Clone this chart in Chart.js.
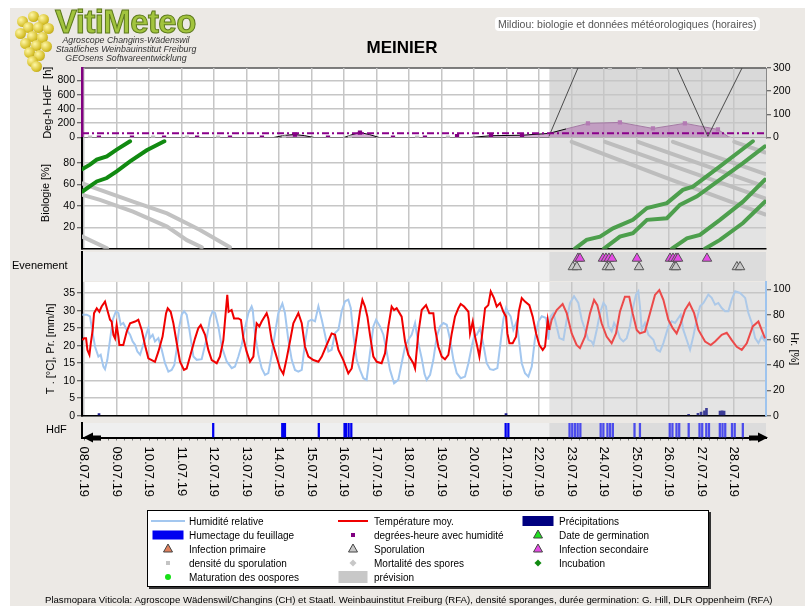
<!DOCTYPE html>
<html lang="fr">
<head>
<meta charset="utf-8">
<title>VitiMeteo - Mildiou MEINIER</title>
<script src="https://cdn.jsdelivr.net/npm/chart.js@4/dist/chart.umd.min.js"></script>
<style>
  html, body { margin: 0; padding: 0; background: #fff; }
  #page { position: relative; width: 805px; height: 606px; overflow: hidden; background: #fff;
          font-family: "Liberation Sans", Arial, sans-serif; color: #000; }
  #frame { position: absolute; left: 10px; top: 8px; right: 0; bottom: 0; background: #ece9e5; }
  #page canvas { position: absolute; left: 0; top: 0; }
  .txt { position: absolute; white-space: nowrap; z-index: 5; }
  #logo { left: 55px; top: 3px; font: bold 33px "Liberation Sans", Arial, sans-serif; color: #a2c43e;
          -webkit-text-stroke: 1px #5d7a1c; letter-spacing: -0.6px; }
  #logoSub { left: 46px; top: 36px; width: 160px; text-align: center; font: italic 8.8px/9px "Liberation Sans", Arial, sans-serif; color: #333; }
  #mainTitle { left: 300px; width: 204px; text-align: center; top: 38px; font: bold 17px "Liberation Sans", Arial, sans-serif; }
  #subTitle { left: 495px; top: 17px; font: 10.5px "Liberation Sans", Arial, sans-serif; color: #555;
              background: #fff; border-radius: 4px; padding: 1px 3px; }
  #grapes span { position: absolute; width: 11px; height: 11px; border-radius: 50%;
                 background: radial-gradient(circle at 35% 35%, #fff7a8, #d6c02a 60%, #9c8612); }
  #legend { position: absolute; left: 147px; top: 510px; width: 560px; height: 75px; background: #fff;
            border: 1px solid #000; box-shadow: 2px 2px 0 #333; z-index: 5; font-size: 10px; }
  #legend .lt { position: absolute; white-space: nowrap; transform: translateY(-50%); }
  #legend .sy { position: absolute; transform: translate(-50%, -50%); }
  #footer { left: 45px; top: 594px; font-size: 9.6px; }
</style>
</head>
<body>
<div id="page">
  <div id="frame"></div>
  <div id="grapes" class="txt" style="left:14px;top:11px;width:42px;height:56px;"></div>
  <div id="logo" class="txt">VitiMeteo</div>
  <div id="logoSub" class="txt">Agroscope Changins-Wädenswil<br>Staatliches Weinbauinstitut Freiburg<br>GEOsens Softwareentwicklung</div>
  <div id="mainTitle" class="txt">MEINIER</div>
  <div id="subTitle" class="txt">Mildiou: biologie et données météorologiques (horaires)</div>

  <canvas id="cDeg" width="805" height="606"></canvas>
  <canvas id="cBio" width="805" height="606"></canvas>
  <canvas id="cEvt" width="805" height="606"></canvas>
  <canvas id="cMet" width="805" height="606"></canvas>
  <canvas id="cHdf" width="805" height="606"></canvas>

  <div class="txt" style="left:12px;top:259px;font-size:11px;">Evenement</div>
  <div class="txt" style="left:46px;top:423px;font-size:11px;">HdF</div>

  <div id="legend"></div>
  <div id="footer" class="txt">Plasmopara Viticola: Agroscope Wädenswil/Changins (CH) et Staatl. Weinbauinstitut Freiburg (RFA), densité sporanges, durée germination: G. Hill, DLR Oppenheim (RFA)</div>
</div>

<script>
// time axis: hours after 08.07.19 00:00
const dayLabels = ["08.07.19", "09.07.19", "10.07.19", "11.07.19", "12.07.19", "13.07.19", "14.07.19",
  "15.07.19", "16.07.19", "17.07.19", "18.07.19", "19.07.19", "20.07.19", "21.07.19", "22.07.19",
  "23.07.19", "24.07.19", "25.07.19", "26.07.19", "27.07.19", "28.07.19"];
const forecastStart = 343.7;

const degTicks = [0, 200, 400, 600, 800];
const sporTicks = [0, 100, 200, 300];
const bioTicks = [20, 40, 60, 80];
const tempTicks = [0, 5, 10, 15, 20, 25, 30, 35];
const humTicks = [0, 20, 40, 60, 80, 100];

// top panel: degree-hours with wetness
const degArea = [[-1.5, 0], [140, 0], [148, 30], [155.8, 42], [163, 25], [170, 0], [192, 0], [198, 40], [203.8, 70],
  [211, 40], [218, 0], [285, 0], [300.6, 25], [323.5, 32], [343.4, 57], [356, 120], [372.2, 198], [395.8, 212],
  [420.2, 127], [443.8, 198], [468.2, 113], [476, 10], [478, 0]];
const degSquares = [[11, 0], [35.4, 0], [59.1, 0], [83.5, 0], [107.8, 0], [131.4, 0], [155.8, 42], [180.2, 0],
  [203.8, 70], [228.2, 0], [251.8, 0], [275.5, 18], [300.6, 25], [323.5, 32]];
const degSquaresFc = [[372.2, 198], [395.8, 212], [420.2, 127], [443.8, 198], [468.2, 113]];
const sporDensity = [[4.4, 0], [51, 0], [76, 0], [99, 0], [147.7, 0], [196.4, 0], [246, 0], [268.8, 0]];
const sporDensityFc = [[388.4, 300], [410.6, 300]];
const sporCumul = [[343.4, 5], [364.8, 300], [372, 420], [430, 420], [438, 300], [460.8, 5], [486, 300], [495, 420]];
const degThreshold = 60;

// biology [%]
const incub1 = [[-1.2, 74.5], [4.4, 78.6], [9.4, 83.3], [16.8, 86.4], [24.1, 92.7], [34, 100.5]];
const incub2 = [[-1.2, 53.5], [9.4, 62.9], [16.8, 66.1], [24.1, 72.3], [34, 81.7], [46.3, 92], [59.3, 100.5]];
const incub3 = [[362.6, 0], [371.2, 8.2], [381.1, 11.3], [390.7, 19], [405.4, 27], [415.8, 38], [430.5, 42.6],
  [442.3, 55], [449.7, 58], [469.7, 77], [494, 100.5]];
const incub4 = [[384, 0], [395.8, 11.3], [405.4, 14.5], [415.8, 27], [430.5, 28.5], [440.1, 41], [452.7, 49],
  [469.7, 64.5], [486.7, 80], [502.9, 95.7]];
const incub5 = [[434.2, 0], [445.3, 9.7], [454.9, 12.9], [469.7, 27], [486.7, 44], [502.9, 64.5]];
const incub6 = [[458.6, 0], [469.7, 8.2], [486.7, 24], [502.9, 44]];
const mort1 = [[-1.2, 61], [11.8, 55], [36.2, 44], [61.3, 33], [85.7, 17.5], [107.8, 1.3]];
const mort2 = [[-1.2, 50.4], [11.8, 45.7], [36.2, 34.7], [61.3, 20.7], [76, 8], [87, 1.3]];
const mort3 = [[-1.2, 11.3], [17, 0.4]];
const mort4 = [[360.2, 100], [430.5, 66], [502.9, 32]];
const mort5 = [[384.8, 100], [502.9, 47]];
const mort6 = [[409.1, 100], [502.9, 58]];
const mort7 = [[435, 100], [502.9, 70]];
const mort8 = [[480.3, 100], [502.9, 90]];

// events
const infSecondaire = [364.8, 366.3, 383.3, 385.5, 387.7, 390, 408.4, 432.8, 435, 437.2, 438.7, 460.1];
const sporulation = [361.1, 364, 386.2, 388.4, 409.9, 435.8, 437.2, 482.2, 484.5];

// temperature [°C]
const tempMeasured = [[-1.2, 21.6], [0, 22.1], [1.5, 22.1], [2.5, 18.8], [4, 17.4], [5, 20.7], [6.4, 24.5], [7.4, 29.3],
  [9.4, 30.7], [11.3, 29.7], [13, 31.2], [15.5, 32.6], [17.2, 30.2], [19.2, 27.4], [20.4, 26.9], [21.7, 23.1],
  [22.9, 22.1], [24.1, 25.9], [25.4, 22.6], [26.1, 20.2], [29, 20.2], [31.5, 24], [34, 26.4], [37.7, 26.9],
  [40.1, 27.4], [42.6, 24.5], [45, 20.2], [47.5, 16.4], [50, 15.9], [52.4, 15.4], [54.9, 18.3], [58, 22.6],
  [60.6, 29.3], [61.8, 30.7], [64, 29.7], [66, 26.4], [68.5, 20.7], [70.9, 15.4], [73.8, 13.1], [75.8, 13.5],
  [78.3, 16.9], [82, 22.1], [84.4, 25], [86.2, 25.9], [89.4, 23.1], [91.8, 18.8], [94.3, 15.9], [98, 15],
  [100.4, 16.9], [102.9, 21.6], [104.6, 29.3], [105.8, 34.5], [106.8, 29.7], [109, 30.2], [110.8, 27.8],
  [114, 27.8], [115.9, 27.4], [117.7, 22.1], [120.1, 18.3], [122.6, 15.4], [125.1, 16.9], [126.3, 22.1],
  [127.5, 26.4], [129.5, 25.5], [131.2, 26.9], [134.9, 29.3], [136.1, 27.8], [138.6, 21.6], [141.1, 18.3],
  [144.8, 13.5], [147.2, 11.9], [149.7, 16.4], [152.1, 21.2], [154.6, 26.4], [158.3, 29.3], [160.8, 26.4],
  [163.2, 19.7], [165.7, 16.9], [169.4, 15.9], [173.1, 15.4], [175.6, 16.9], [179.2, 20.2], [182.9, 23.5],
  [185.4, 23.1], [187.9, 18.8], [191.5, 15.9], [195.2, 12.1], [197.7, 13.5], [200.9, 21.6], [203.8, 29.7],
  [205.6, 33.1], [207.5, 31.2], [209.3, 28.3], [211.2, 23.1], [213.7, 16.9], [216.2, 15.4], [219.8, 15],
  [222.3, 17.8], [224.8, 25.5], [227.2, 31.2], [229, 30.2], [230.9, 30.7], [234.6, 28.3], [237.1, 21.2],
  [239.5, 17.4], [243.2, 15], [244.5, 13.5], [246.9, 23.5], [249.4, 30.2], [252.6, 31.6], [255, 29.3],
  [258, 29.3], [259.2, 25], [261.7, 19.7], [264.2, 16.9], [266.6, 16.1], [269.1, 17.4], [271.6, 23.5],
  [274, 28.3], [276.5, 30.7], [278.2, 31.9], [280.7, 31.2], [283.9, 29.7], [285.1, 23.5], [287.1, 26.9],
  [288.8, 22.6], [290.5, 19.7], [292, 16.9], [293.7, 22.1], [296.2, 30.7], [298.6, 31.6], [300.4, 35.5],
  [302.8, 33.6], [304.8, 31.2], [307.3, 32.2], [309.7, 29.7], [311.7, 28.3], [312.7, 23.5], [314.2, 20.7],
  [316.6, 20.7], [319.1, 22.6], [321.1, 29.7], [323.3, 33.6], [325.7, 32.6], [328.9, 31.6], [331.4, 28.3],
  [333.9, 23.5], [336.3, 20.2], [338.8, 18.8], [340.5, 19.7], [342.5, 27.4], [343.7, 24.5]];
const tempForecast = [[343.7, 24.5], [345.4, 27.4], [349.1, 30.2], [353.5, 31.9], [356.5, 29.3], [360.2, 23.5],
  [363.8, 20.2], [366.3, 19.3], [370, 22.6], [373.7, 29.3], [376.7, 33.1], [379.1, 31.6], [382.3, 26.4],
  [386, 22.6], [389.7, 20.7], [392.9, 23.5], [395.8, 29.7], [399.5, 34], [402.7, 34], [405.2, 29.3],
  [408.2, 24.5], [410.6, 23.5], [414.3, 24], [418, 29.3], [421.7, 34.5], [424.9, 35.9], [427.9, 33.1],
  [431.6, 27.4], [434.8, 25], [437.7, 23.5], [440.7, 26.4], [443.9, 30.2], [447.1, 32.2], [450.6, 29.3],
  [453.8, 24.5], [458.7, 21.2], [462.9, 20.2], [466.1, 21.2], [471, 23.1], [474.7, 23.7], [478.4, 21.6],
  [482.1, 19.7], [485.8, 18.8], [489.5, 20.7], [493.9, 25.5], [498.1, 26.9], [500.5, 24.5], [503, 22.1]];

// relative humidity [%]
const humMeasured = [[-1.2, 80.1], [2, 80.1], [4.4, 78.8], [6.4, 65.5], [8.1, 54.9], [10.6, 46.9], [12.3, 48.3],
  [14.3, 39], [15.5, 36.9], [17.2, 44.3], [19.2, 60.2], [21.2, 76.1], [23.6, 82.8], [25.4, 81.4], [27.1, 72.1],
  [29, 73.5], [31.5, 68.2], [34, 64.2], [35.9, 58.9], [37.7, 56.2], [39.4, 50.9], [41.4, 48.3], [43.3, 54.9],
  [45.1, 61.5], [47.5, 69.5], [48.7, 61.5], [50.7, 64.2], [52.4, 58.9], [54.9, 61.5], [57.4, 52.3], [59.8, 41.6],
  [62.3, 35], [64.7, 36.3], [66.7, 40.3], [68.4, 52.3], [70.4, 70.8], [72.1, 80.1], [73.9, 82.8], [75.8, 80.1],
  [77.8, 68.2], [80.8, 46.9], [83.2, 44.3], [86.9, 44.8], [90.6, 61.5], [93.1, 77.5], [95, 82.8], [96.8, 81.4],
  [99.2, 70.8], [101.7, 54.9], [105.4, 43], [109.1, 37.7], [111.5, 39], [114, 46.9], [116.5, 56.2], [118.9, 69.5],
  [121.4, 81.4], [123.8, 86.7], [124.6, 84.1], [126.3, 64.2], [128.8, 48.3], [131.2, 37.7], [133.7, 32.4],
  [136.1, 33.7], [138.6, 48.3], [141.1, 65.5], [143.5, 81.4], [146.5, 88.9], [148.4, 81.4], [150.9, 60.2],
  [153.4, 44.3], [155.8, 36.3], [158.3, 35], [160.8, 36.3], [163.2, 57.6], [165.7, 74.8], [168.1, 76.1],
  [170.6, 74.8], [173.1, 86.7], [175.6, 76.1], [178, 64.2], [180.5, 50.9], [182.9, 52.3], [185.4, 65.5],
  [187.9, 68.2], [190.3, 82.8], [192.8, 90.7], [195.2, 92], [197, 85.4], [198.9, 64.2], [201.4, 44.3],
  [203.8, 36.3], [206.3, 29.7], [208.7, 28.4], [211.2, 49.6], [213.7, 70.8], [215.7, 76.1], [218.6, 70.8],
  [221.1, 64.2], [223.5, 50.9], [226, 36.3], [229, 25.7], [232.1, 28.4], [234.6, 41.6], [237.1, 54.9],
  [239.5, 60.2], [242, 64.2], [244.5, 73.5], [246.9, 57.6], [249.4, 45.6], [251.5, 33], [253.1, 28.4],
  [255.6, 32.4], [258, 44.3], [260.5, 62.9], [263, 70.8], [265.4, 73.5], [267.9, 72.1], [270.4, 60.2],
  [272.8, 44.3], [275.3, 33.7], [278.2, 29.7], [281.4, 31], [283.9, 41.6], [286.4, 54.9], [288.1, 62.9],
  [290.1, 64.2], [292.5, 69.5], [295, 56.2], [297.4, 41.6], [299.9, 36.9], [302.4, 36.3], [305.3, 37.7],
  [307.3, 54.9], [309.7, 76.1], [311.7, 85.4], [313.4, 81.4], [315.1, 78.8], [317.1, 68.2], [319.6, 74.8],
  [321.5, 57.6], [323.3, 41.6], [325.7, 33.7], [328.2, 31], [330.7, 39], [333.1, 61.5], [335.6, 74.8],
  [338.1, 78.8], [341.3, 77.5], [343, 60.2], [343.7, 70]];
const humForecast = [[343.7, 70], [344.7, 78.8], [346.7, 81.4], [349.1, 70.8], [351.1, 61.5], [354.1, 60.2],
  [356.5, 76.1], [359, 89.4], [361.9, 94.7], [365.1, 89.4], [367.6, 76.1], [370, 68.2], [372.5, 60.2],
  [374.9, 58.9], [376.2, 56.2], [378.7, 68.2], [381.1, 81.4], [383.6, 89.4], [385.5, 86.7], [387.3, 70.8],
  [389.7, 66.8], [391.5, 73.5], [393.4, 69.5], [395.8, 61.5], [398.3, 58.9], [400.8, 61.5], [403.2, 70.8],
  [405.7, 86.7], [407.7, 96], [409.4, 98.7], [410.6, 86.7], [411.9, 68.2], [414.3, 73.5], [416.8, 64.2],
  [420.5, 60.2], [423, 52.3], [425.4, 50.9], [427.9, 57.6], [431.6, 70.8], [434, 74.8], [436.5, 73.5],
  [439, 77.5], [440.7, 80.1], [442.6, 68.2], [445.1, 60.2], [447.6, 52.3], [450, 62.9], [452.5, 76.1],
  [455, 86.7], [457.5, 89.4], [461.1, 96], [463.6, 93.4], [466.1, 88.1], [468.5, 89.4], [471, 85.4],
  [473.5, 82.8], [475.9, 82.8], [478.4, 92], [480.9, 98.7], [484.6, 97.3], [488.3, 93.4], [490.7, 81.4],
  [493.2, 73.5], [495.7, 61.5], [498.1, 57.6], [500.6, 62.9], [503, 58.9]];

// precipitation [mm/h]
const precipMeasured = [[11.8, 0.6], [312.4, 0.6]];
const precipForecast = [[445.8, 0.4], [452.7, 0.7], [455, 1.0], [457.5, 1.4], [459, 2.1], [469, 1.3], [470.5, 1.4], [472, 1.3]];

// leaf wetness hours
const wetHours = [96, 147, 148, 149, 174, 193, 194, 196, 198, 312, 314];
const wetHoursFc = [358, 360, 362, 364, 366, 381, 383, 386, 388, 390, 406, 410, 432, 434, 437, 439, 446,
  454, 456, 459, 461, 469, 471, 473, 478, 480, 486];

const FONT = '"Liberation Sans", Arial, sans-serif';
const GRID = "#c6c6c6";
const X_MIN = -1.5, X_MAX = 503.7;

Chart.defaults.font.family = FONT;
Chart.defaults.font.size = 10.5;
Chart.defaults.color = "#000";
Chart.defaults.animation = false;
Chart.defaults.plugins.legend.display = false;
Chart.defaults.plugins.tooltip.enabled = false;
Chart.defaults.elements.point.radius = 0;
Chart.defaults.elements.line.tension = 0;

const pts = arr => arr.map(p => ({ x: p[0], y: p[1] }));

// plot background + grey forecast area, drawn behind grid and data
Chart.register({
  id: "panelBg",
  beforeDraw(chart, args, opts) {
    if (!opts.bg) return;
    const { ctx, chartArea: a, scales: { x } } = chart;
    const fx = x.getPixelForValue(forecastStart);
    ctx.save();
    ctx.fillStyle = opts.bg;
    ctx.fillRect(a.left, a.top, a.right - a.left, a.bottom - a.top);
    ctx.fillStyle = opts.fc;
    ctx.fillRect(fx, a.top, a.right - fx, a.bottom - a.top);
    if (opts.topLine) {
      ctx.strokeStyle = "#555";
      ctx.lineWidth = 1.5;
      ctx.beginPath();
      ctx.moveTo(a.left, a.top);
      ctx.lineTo(a.right, a.top);
      ctx.stroke();
    }
    ctx.restore();
  }
});

function xScale(extra) {
  return Object.assign({
    type: "linear", min: X_MIN, max: X_MAX, offset: false,
    afterBuildTicks: s => { s.ticks = dayLabels.map((_, i) => ({ value: i * 24 })); },
    afterFit: s => { s.height = 0; },
    ticks: { display: false },
    grid: { color: GRID, lineWidth: 1.5, drawTicks: false, offset: false },
    border: { display: true, color: "#000", width: 1.5 }
  }, extra);
}

function yScale(position, min, max, tickVals, extra) {
  const w = position === "left" ? 82 : 39;
  return Object.assign({
    type: "linear", position, min, max,
    afterBuildTicks: s => { s.ticks = tickVals.map(v => ({ value: v })); },
    afterFit: s => { s.width = w; },
    ticks: { padding: 2, color: "#000" },
    grid: { color: GRID, lineWidth: 1.5, tickLength: 5, tickColor: "#444", tickWidth: 1,
            drawOnChartArea: position === "left" },
    border: { color: "#000", width: 2 }
  }, extra);
}

function axisTitle(text, pad) {
  return { display: true, text, font: { size: 11 }, padding: { top: pad, bottom: 0 } };
}

function pad(top, bottom, right) {
  return { padding: { top, bottom: 606 - bottom, left: 0, right: right || 0 } };
}

// ---- panel 1: degree-hours ----
new Chart(document.getElementById("cDeg"), {
  type: "line",
  data: {
    datasets: [
      { data: [{ x: X_MIN, y: degThreshold }, { x: X_MAX, y: degThreshold }], borderColor: "#8a008a",
        borderWidth: 2, borderDash: [7, 3, 2, 3], yAxisID: "y" },
      { data: pts(degSquares), showLine: false, pointStyle: "rect", pointRadius: 3,
        pointBackgroundColor: "#800080", pointBorderWidth: 0, yAxisID: "y" },
      { data: pts(degSquaresFc), showLine: false, pointStyle: "rect", pointRadius: 3,
        pointBackgroundColor: "#b37ab3", pointBorderWidth: 0, yAxisID: "y" },
      { data: pts(sporDensity), showLine: false, pointStyle: "rect", pointRadius: 3,
        pointBackgroundColor: "#c4c4c4", pointBorderWidth: 0, yAxisID: "y" },
      { data: pts(sporDensityFc), showLine: false, pointStyle: "rect", pointRadius: 3,
        pointBackgroundColor: "#c4c4c4", pointBorderWidth: 0, yAxisID: "y2" },
      { data: pts(sporCumul), borderColor: "#4a4a4a", borderWidth: 1, yAxisID: "y2" },
      { data: pts(degArea), fill: "origin", backgroundColor: "rgba(175,110,175,0.55)", borderWidth: 1,
        borderColor: "#000", yAxisID: "y",
        segment: { borderColor: c => c.p0.parsed.x >= forecastStart ? "#a47aa4" : "#000" } }
    ]
  },
  options: {
    responsive: false,
    layout: pad(68, 137.5),
    plugins: { panelBg: { bg: "#fff", fc: "#d9d9d9", topLine: true } },
    scales: {
      x: xScale(),
      y: yScale("left", 0, 975, degTicks, {
        title: axisTitle("Deg-h HdF  [h]", 41),
        border: { color: "#800080", width: 2.5 }
      }),
      y2: yScale("right", 0, 300, sporTicks, { border: { color: "#888", width: 1 } })
    }
  }
});

// ---- panel 2: biology ----
const bioLine = (arr, color) => ({ data: pts(arr), borderColor: color, borderWidth: 4, borderCapStyle: "round" });
new Chart(document.getElementById("cBio"), {
  type: "line",
  data: {
    datasets: [
      bioLine(incub1, "#118a11"), bioLine(incub2, "#118a11"),
      bioLine(incub3, "#4d9f4d"), bioLine(incub4, "#4d9f4d"), bioLine(incub5, "#4d9f4d"), bioLine(incub6, "#4d9f4d"),
      bioLine(mort1, "#c2c2c2"), bioLine(mort2, "#c2c2c2"), bioLine(mort3, "#c2c2c2"),
      bioLine(mort4, "#bdbdbd"), bioLine(mort5, "#bdbdbd"), bioLine(mort6, "#bdbdbd"),
      bioLine(mort7, "#bdbdbd"), bioLine(mort8, "#bdbdbd")
    ]
  },
  options: {
    responsive: false,
    layout: pad(137.5, 248.7, 39),
    plugins: { panelBg: { bg: "#fff", fc: "#e3e3e3" } },
    scales: {
      x: xScale(),
      y: yScale("left", 0, 104, bioTicks, { title: axisTitle("Biologie [%]", 39) })
    }
  }
});

// ---- panel 3: events ----
const evt = (hours, row, fill) => ({
  data: hours.map(h => ({ x: h, y: row })), showLine: false, pointStyle: "triangle", pointRadius: 5.5,
  pointBackgroundColor: fill, pointBorderColor: "#555", pointBorderWidth: 1
});
new Chart(document.getElementById("cEvt"), {
  type: "line",
  data: { datasets: [evt(infSecondaire, 2, "#e44ce4"), evt(sporulation, 1, "#c8c8c8")] },
  options: {
    responsive: false,
    layout: pad(252, 281, 39),
    plugins: { panelBg: { bg: "#efefef", fc: "#dcdcdc" } },
    scales: {
      x: xScale({ grid: { display: false }, border: { display: false } }),
      y: yScale("left", -0.65, 2.76, [], { ticks: { display: false }, grid: { display: false } })
    }
  }
});

// ---- panel 4: temperature, precipitation, humidity ----
new Chart(document.getElementById("cMet"), {
  type: "line",
  data: {
    datasets: [
      { data: pts(tempMeasured), borderColor: "#f00000", borderWidth: 2, yAxisID: "y" },
      { data: pts(tempForecast), borderColor: "#ec4a4a", borderWidth: 2, yAxisID: "y" },
      { type: "bar", data: pts(precipMeasured), backgroundColor: "#1c1c8c", barThickness: 2, yAxisID: "y" },
      { type: "bar", data: pts(precipForecast), backgroundColor: "#3c3c96", barThickness: 2, yAxisID: "y" },
      { data: pts(humMeasured), borderColor: "#a3c7ef", borderWidth: 2, yAxisID: "y2" },
      { data: pts(humForecast), borderColor: "#adc9e8", borderWidth: 2, yAxisID: "y2" }
    ]
  },
  options: {
    responsive: false,
    layout: pad(282, 415.7),
    plugins: { panelBg: { bg: "#fff", fc: "#e4e4e4" } },
    scales: {
      x: xScale(),
      y: yScale("left", 0, 38.2, tempTicks, { title: axisTitle("T . [°C], Pr. [mm/h]", 44) }),
      y2: yScale("right", 0, 106, humTicks, {
        title: axisTitle("Hr. [%]", 4),
        border: { color: "#9ec4ee", width: 2 }
      })
    }
  }
});

// ---- panel 5: leaf wetness + date axis ----
const dateAxis = {
  id: "dateAxis",
  afterDraw(chart) {
    const { ctx, chartArea: a, scales: { x } } = chart;
    ctx.save();
    ctx.fillStyle = "#000";
    ctx.font = "13px " + FONT;
    ctx.textBaseline = "middle";
    ctx.textAlign = "left";
    dayLabels.forEach((lab, i) => {
      ctx.save();
      ctx.translate(x.getPixelForValue(i * 24), a.bottom + 9);
      ctx.rotate(Math.PI / 2);
      ctx.fillText(lab, 0, 0);
      ctx.restore();
    });
    // arrow heads at both ends of the time axis
    const y = a.bottom;
    ctx.beginPath();
    ctx.moveTo(a.left + 1, y);
    ctx.lineTo(a.left + 11, y - 5); ctx.lineTo(a.left + 11, y - 2);
    ctx.lineTo(a.left + 19, y - 2); ctx.lineTo(a.left + 19, y + 3);
    ctx.lineTo(a.left + 11, y + 3); ctx.lineTo(a.left + 11, y + 5);
    ctx.closePath();
    ctx.fill();
    ctx.beginPath();
    ctx.moveTo(a.right + 2, y);
    ctx.lineTo(a.right - 8, y - 5); ctx.lineTo(a.right - 8, y - 2);
    ctx.lineTo(a.right - 17, y - 2); ctx.lineTo(a.right - 17, y + 3);
    ctx.lineTo(a.right - 8, y + 3); ctx.lineTo(a.right - 8, y + 5);
    ctx.closePath();
    ctx.fill();
    ctx.restore();
  }
};
new Chart(document.getElementById("cHdf"), {
  type: "bar",
  data: {
    datasets: [
      { data: wetHours.map(h => ({ x: h, y: 1 })), backgroundColor: "#0000f0", barThickness: 1.6 },
      { data: wetHoursFc.map(h => ({ x: h, y: 1 })), backgroundColor: "#4b4bec", barThickness: 1.6 }
    ]
  },
  options: {
    responsive: false,
    layout: { padding: { top: 423, bottom: 606 - 437.5 - 4, left: 0, right: 39 } },
    plugins: { panelBg: { bg: "#efefef", fc: "#dcdcdc" } },
    scales: {
      x: xScale({
        afterBuildTicks: s => { s.ticks = []; for (let h = 0; h <= X_MAX; h += 6) s.ticks.push({ value: h }); },
        afterFit: s => { s.height = 4; },
        grid: { drawOnChartArea: false, drawTicks: true, tickLength: 3, color: "#777", lineWidth: 1, offset: false },
        border: { display: true, color: "#000", width: 2 }
      }),
      y: yScale("left", 0, 1, [], { ticks: { display: false }, grid: { display: false } })
    }
  },
  plugins: [dateAxis]
});

// ---- legend ----
const tri = c => `<svg width="11" height="10"><polygon points="5.5,1 10,9 1,9" fill="${c}" stroke="#444" stroke-width="1"/></svg>`;
const legendItems = [
  [167, 10, '<div style="width:34px;height:2px;background:#a3c7ef"></div>', "Humidité relative"],
  [167, 24, '<div style="width:31px;height:9px;background:#0000f0"></div>', "Humectage du feuillage"],
  [167, 38, tri("#e0805c"), "Infection primaire"],
  [167, 52, '<div style="width:4px;height:4px;background:#c4c4c4"></div>', "densité du sporulation"],
  [167, 66, '<div style="width:6px;height:6px;border-radius:50%;background:#18e018"></div>', "Maturation des oospores"],
  [352, 10, '<div style="width:30px;height:2px;background:#f00000"></div>', "Température moy."],
  [352, 24, '<div style="width:4px;height:4px;background:#800080"></div>', "degrées-heure avec humidité"],
  [352, 38, tri("#c8c8c8"), "Sporulation"],
  [352, 52, '<div style="width:5px;height:5px;transform:rotate(45deg);background:#c8c8c8"></div>', "Mortalité des spores"],
  [352, 66, '<div style="width:29px;height:12px;background:#c8c8c8"></div>', "prévision"],
  [537, 10, '<div style="width:31px;height:10px;background:#000080"></div>', "Précipitations"],
  [537, 24, tri("#20e020"), "Date de germination"],
  [537, 38, tri("#e44ce4"), "Infection secondaire"],
  [537, 52, '<div style="width:5px;height:5px;transform:rotate(45deg);background:#108a10"></div>', "Incubation"]
];
const legendEl = document.getElementById("legend");
legendItems.forEach(([cx, cy, sym, label]) => {
  const s = document.createElement("div");
  s.className = "sy";
  s.style.left = (cx - 147) + "px";
  s.style.top = cy + "px";
  s.innerHTML = sym;
  legendEl.appendChild(s);
  const t = document.createElement("div");
  t.className = "lt";
  t.style.left = (cx - 147 + 21) + "px";
  t.style.top = cy + "px";
  t.textContent = label;
  legendEl.appendChild(t);
});

// grape cluster next to the logo
const grapesEl = document.getElementById("grapes");
[[14, 0], [24, 3], [3, 5], [9, 11], [19, 11], [29, 12], [1, 17], [13, 20], [23, 21], [6, 27], [17, 29],
 [27, 30], [10, 36], [20, 39], [13, 45], [17, 50]].forEach(([l, t]) => {
  const b = document.createElement("span");
  b.style.left = l + "px";
  b.style.top = t + "px";
  grapesEl.appendChild(b);
});
</script>
</body>
</html>
